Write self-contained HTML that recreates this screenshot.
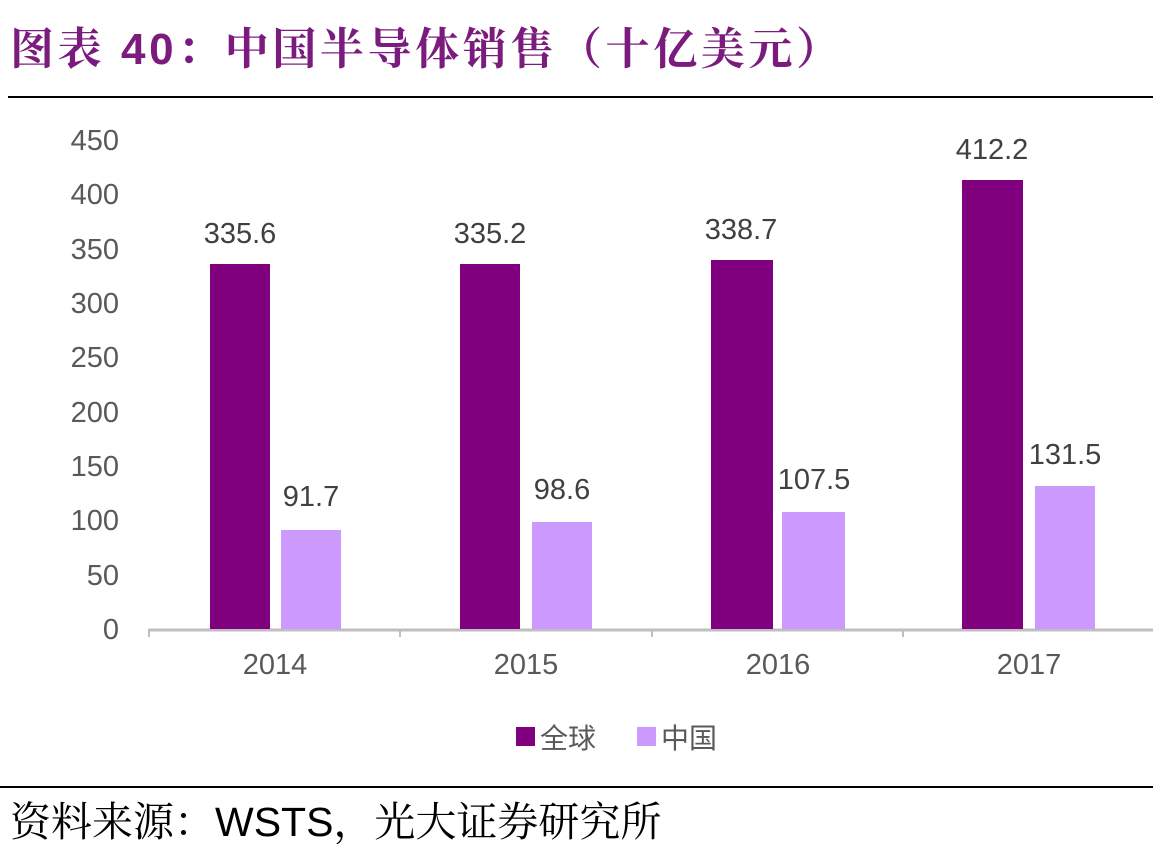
<!DOCTYPE html>
<html><head><meta charset="utf-8"><style>
body{margin:0;width:1153px;height:844px;background:#fff;overflow:hidden;font-family:"Liberation Sans","Noto Sans CJK SC",sans-serif;}
</style></head><body>
<svg width="1153" height="844" xmlns="http://www.w3.org/2000/svg" style="position:absolute;left:0;top:0">
<text x="10" y="64" font-size="44" font-weight="bold" fill="#7a1b7d" textLength="830" lengthAdjust="spacing" font-family="Liberation Sans, Noto Serif CJK SC, serif">图表 40：中国半导体销售（十亿美元）</text>
<line x1="8" y1="97" x2="1153" y2="97" stroke="#000" stroke-width="2"/>
<g font-size="29" fill="#595959" text-anchor="end" font-family="Liberation Sans, sans-serif">
<text x="119" y="150">450</text><text x="119" y="204">400</text><text x="119" y="259">350</text>
<text x="119" y="313">300</text><text x="119" y="367">250</text><text x="119" y="422">200</text>
<text x="119" y="476">150</text><text x="119" y="530">100</text><text x="119" y="585">50</text>
<text x="119" y="639">0</text>
</g>
<line x1="148" y1="630" x2="1153" y2="630" stroke="#bfbfbf" stroke-width="3"/>
<g stroke="#bfbfbf" stroke-width="2">
<line x1="149" y1="630" x2="149" y2="637"/><line x1="400" y1="630" x2="400" y2="637"/>
<line x1="652" y1="630" x2="652" y2="637"/><line x1="903" y1="630" x2="903" y2="637"/>
</g>
<g fill="#800080">
<rect x="210" y="264" width="60" height="365"/>
<rect x="460" y="264" width="60" height="365"/>
<rect x="711" y="260" width="62" height="369"/>
<rect x="962" y="180" width="61" height="449"/>
</g>
<g fill="#cc99ff">
<rect x="281" y="530" width="60" height="99"/>
<rect x="532" y="522" width="60" height="107"/>
<rect x="782" y="512" width="63" height="117"/>
<rect x="1035" y="486" width="60" height="143"/>
</g>
<g font-size="29" fill="#404040" text-anchor="middle" font-family="Liberation Sans, sans-serif">
<text x="240" y="243">335.6</text><text x="490" y="243">335.2</text>
<text x="741" y="239">338.7</text><text x="992" y="159">412.2</text>
<text x="311" y="506">91.7</text><text x="562" y="499">98.6</text>
<text x="814" y="489">107.5</text><text x="1065" y="464">131.5</text>
</g>
<g font-size="29" fill="#595959" text-anchor="middle" font-family="Liberation Sans, sans-serif">
<text x="275" y="674">2014</text><text x="526" y="674">2015</text>
<text x="778" y="674">2016</text><text x="1029" y="674">2017</text>
</g>
<rect x="516" y="727" width="19" height="19" fill="#800080"/>
<text x="540" y="748" font-size="28" fill="#595959">全球</text>
<rect x="637" y="727" width="19" height="19" fill="#cc99ff"/>
<text x="661" y="748" font-size="28" fill="#595959">中国</text>
<line x1="0" y1="787" x2="1153" y2="787" stroke="#000" stroke-width="2"/>
<text x="10" y="836" font-size="41" fill="#000" font-family="Liberation Sans, Noto Serif CJK SC, serif">资料来源：WSTS，光大证券研究所</text>
</svg>
</body></html>
